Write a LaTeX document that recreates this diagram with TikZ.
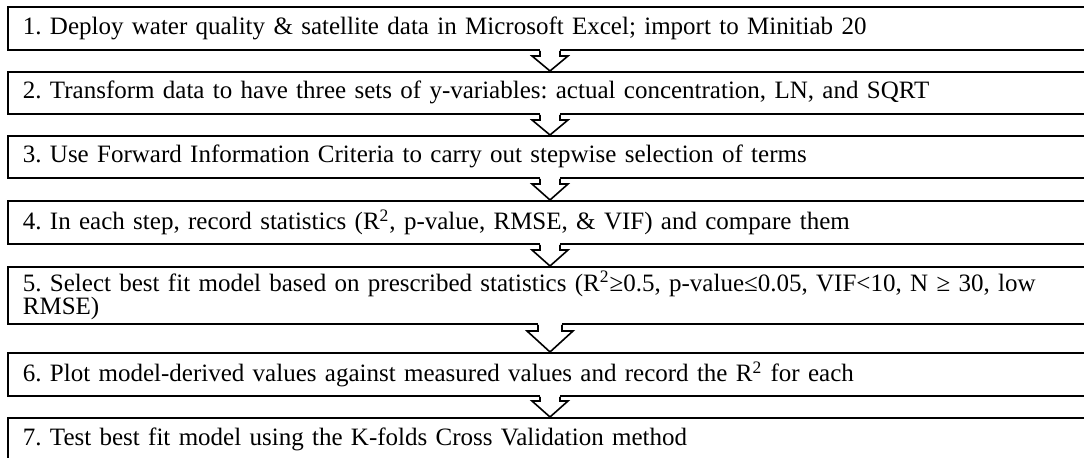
\documentclass[tikz,border=0pt]{standalone}
\usepackage{fontspec}
\setmainfont{Liberation Serif}
\usetikzlibrary{calc}
\frenchspacing
\newcommand\flowarrow[5]{%
  \coordinate (s) at (#1.south -| ax);
  \coordinate (t) at (#2.north -| ax);
  \fill[white] ($(s)+(-#3,-1.6)$) rectangle ($(s)+(#3,0)$);
  \filldraw[blk] ($(s)+(-#3,0)$) -- ($(t)+(-#3,-#5)$) -- ($(t)+(-#4,-#5)$) -- (t)
     -- ($(t)+(#4,-#5)$) -- ($(t)+(#3,-#5)$) -- ($(s)+(#3,0)$);
}
\begin{document}
\frenchspacing
\begin{tikzpicture}[x=0.5pt,y=-0.5pt,
  box/.style={draw, line width=0.9pt, rectangle, anchor=north west,
    text width=531pt, align=left, inner xsep=7.5pt, inner ysep=0pt,
    font=\fontsize{12.5}{11.5}\selectfont\frenchspacing},
  blk/.style={draw, fill=white, line width=0.8pt, line join=miter}]
\useasboundingbox (0,0) rectangle (1084,458);
\coordinate (ax) at (550,0);
\node[box, minimum height=21.5pt] (b1) at (7,6) {1. Deploy water quality \& satellite data in Microsoft Excel; import to Minitiab 20};
\node[box, minimum height=21pt] (b2) at (7,71) {2. Transform data to have three sets of y-variables: actual concentration, LN, and SQRT};
\node[box, minimum height=21pt] (b3) at (7,135) {3. Use Forward Information Criteria to carry out stepwise selection of terms};
\node[box, minimum height=21.5pt] (b4) at (7,200) {4. In each step, record statistics (R\textsuperscript{2}, p-value, RMSE, \& VIF) and compare them};
\node[box, minimum height=28.5pt] (b5) at (7,266) {5. Select best fit model based on prescribed statistics (R\textsuperscript{2}≥0.5, p-value≤0.05, VIF<10, N ≥ 30, low\\RMSE)};
\node[box, minimum height=21.5pt] (b6) at (7,352) {6. Plot model-derived values against measured values and record the R\textsuperscript{2} for each};
\node[box, minimum height=21.5pt] (b7) at (7,417) {7. Test best fit model using the K-folds Cross Validation method};
\flowarrow{b1}{b2}{10}{18}{15}
\flowarrow{b2}{b3}{10}{18}{15}
\flowarrow{b3}{b4}{10}{18}{16}
\flowarrow{b4}{b5}{10}{18}{16}
\flowarrow{b5}{b6}{12}{23}{21}
\flowarrow{b6}{b7}{10}{18}{16}
\end{tikzpicture}
\end{document}
